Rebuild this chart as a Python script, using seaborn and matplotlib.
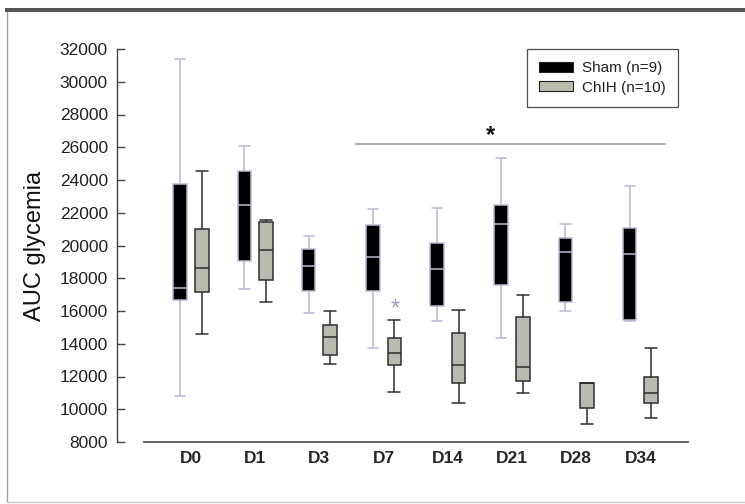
import matplotlib
matplotlib.use("Agg")
import matplotlib.pyplot as plt
from matplotlib.patches import Patch, Rectangle
from matplotlib.lines import Line2D
import seaborn as sns
import pandas as pd

# ---------------- data (five-number summaries) ----------------
days = ["D0", "D1", "D3", "D7", "D14", "D21", "D28", "D34"]
groups = ["Sham (n=9)", "ChIH (n=10)"]

sham_min = [10800, 17350, 15860, 13740, 15410, 14350, 15980, 15400]
sham_q1 = [16680, 19040, 17250, 17230, 16330, 17590, 16530, 15470]
sham_med = [17410, 22490, 18720, 19290, 18570, 21290, 19630, 19490]
sham_q3 = [23740, 24530, 19760, 21230, 20140, 22490, 20470, 21080]
sham_max = [31370, 26100, 20610, 22230, 22270, 25370, 21290, 23630]

chih_min = [14600, 16530, 12760, 11080, 10410, 11020, 9080, 9490]
chih_q1 = [17140, 17920, 13310, 12720, 11630, 11740, 10060, 10370]
chih_med = [18610, 19740, 14390, 13450, 12700, 12610, 11600, 11020]
chih_q3 = [21020, 21430, 15170, 14370, 14680, 15610, 11630, 12000]
chih_max = [24530, 21570, 16020, 15470, 16080, 17000, 11630, 13740]

yticks = [8000, 10000, 12000, 14000, 16000, 18000, 20000, 22000,
          24000, 26000, 28000, 30000, 32000]
sig_start, sig_end, sig_level = "D7", "D34", 26200
star_day = "D7"
star_level = 15600

# ---------------- build long-form table ----------------
rows = []
for g, stats in [(groups[0], [sham_min, sham_q1, sham_med, sham_q3, sham_max]),
                 (groups[1], [chih_min, chih_q1, chih_med, chih_q3, chih_max])]:
    for i, d in enumerate(days):
        for s in stats:
            rows.append({"day": d, "group": g, "auc": s[i]})
df = pd.DataFrame(rows)

# ---------------- style ----------------
sns.set_style("white")
plt.rcParams["font.family"] = ["Liberation Sans", "DejaVu Sans"]

fig = plt.figure(figsize=(7.45, 5.04), dpi=100)
W, H = 745.0, 504.0
ax = fig.add_axes([117 / W, (H - 442) / H, (688 - 117) / W, (442 - 49) / H])

sham_edge = "#bcb8d4"
sham_fill = "#000000"
chih_fill = "#bcbcae"
chih_edge = "#2e2e2e"

WIDTH = 0.67
GAP = 0.37
boxw = WIDTH / 2 * (1 - GAP)


def draw(group, fill, edge, lw, cap_frac):
    before = set(ax.lines)
    sns.boxplot(
        data=df[df["group"] == group], x="day", y="auc", hue="group",
        order=days, hue_order=groups,
        palette={groups[0]: sham_fill, groups[1]: chih_fill},
        width=WIDTH, gap=GAP, whis=(0, 100), dodge=True,
        linecolor=edge, linewidth=lw, legend=False, ax=ax,
        boxprops=dict(edgecolor=edge, linewidth=lw),
        whiskerprops=dict(color=edge, linewidth=lw),
        capprops=dict(color=edge, linewidth=lw),
        medianprops=dict(color=edge, linewidth=lw),
        showfliers=False,
    )
    for ln in ax.lines:
        if ln in before:
            continue
        x = list(ln.get_xdata())
        y = list(ln.get_ydata())
        if len(x) == 2 and y[0] == y[1] and abs(x[1] - x[0]) < 0.75 * boxw:
            c = (x[0] + x[1]) / 2
            h = cap_frac * boxw / 2
            ln.set_xdata([c - h, c + h])


draw(groups[0], sham_fill, sham_edge, 1.1, 0.76)
draw(groups[1], chih_fill, chih_edge, 1.1, 0.9)

# ---------------- axes ----------------
xmin, xmax = -1.153, 7.741
ax.set_xlim(xmin, xmax)
ax.set_ylim(8000, 32000)
ax.set_yticks(yticks)
ax.set_yticklabels([str(t) for t in yticks])
ax.set_xlabel("")
ax.set_ylabel("AUC glycemia", fontsize=17, color="#111111", labelpad=10)

for s in ["top", "right"]:
    ax.spines[s].set_visible(False)
ax.spines["left"].set_color("#444444")
ax.spines["left"].set_linewidth(1.0)
ax.spines["bottom"].set_color("#555555")
ax.spines["bottom"].set_linewidth(1.3)
ax.spines["bottom"].set_bounds(-0.73, xmax)

ax.tick_params(axis="y", direction="in", length=6, width=1.0, color="#444444",
               labelsize=12.5, labelcolor="#222222", pad=6.5, left=True)
ax.tick_params(axis="x", length=0, labelsize=12.5, pad=6.5)
for lab in ax.get_xticklabels():
    lab.set_fontweight("bold")
ax.grid(False)

# significance annotations
ax.plot([days.index(sig_start) - 0.43, days.index(sig_end) + 0.38],
        [sig_level, sig_level], color="#a6a6a6", linewidth=1.3)
ax.text(4.66, sig_level + 120, "*", fontsize=17, fontweight="bold",
        color="#111111", ha="center", va="baseline")
ax.text(days.index(star_day) + 0.18, star_level + 100, "*", fontsize=17,
        color="#9d99bb", ha="center", va="baseline")

# legend
handles = [Patch(facecolor=sham_fill, edgecolor="#222222", linewidth=0.8),
           Patch(facecolor=chih_fill, edgecolor="#222222", linewidth=0.8)]
leg = ax.legend(handles, groups, loc="upper right",
                bbox_to_anchor=((678 - 117) / (688 - 117), 1.0),
                frameon=True, fancybox=False, shadow=False, fontsize=11,
                handlelength=2.2, handleheight=0.65, handletextpad=0.6,
                labelspacing=0.35, borderpad=0.8, borderaxespad=0.0)
leg.get_frame().set_edgecolor("#222222")
leg.get_frame().set_linewidth(0.9)
for t in leg.get_texts():
    t.set_color("#222222")

# outer frame decoration of the original screenshot
fig.add_artist(Rectangle((5 / W, (H - 12) / H), 740 / W, 4 / H,
                         transform=fig.transFigure, color="#555555", lw=0))
fig.add_artist(Line2D([7 / W, 7 / W], [(H - 502) / H, (H - 12) / H],
                      transform=fig.transFigure, color="#a0a0a0", lw=1.0))
fig.add_artist(Line2D([7 / W, 1.0], [(H - 502) / H, (H - 502) / H],
                      transform=fig.transFigure, color="#c8c8c8", lw=1.0))

fig.savefig("out.png", dpi=100)
